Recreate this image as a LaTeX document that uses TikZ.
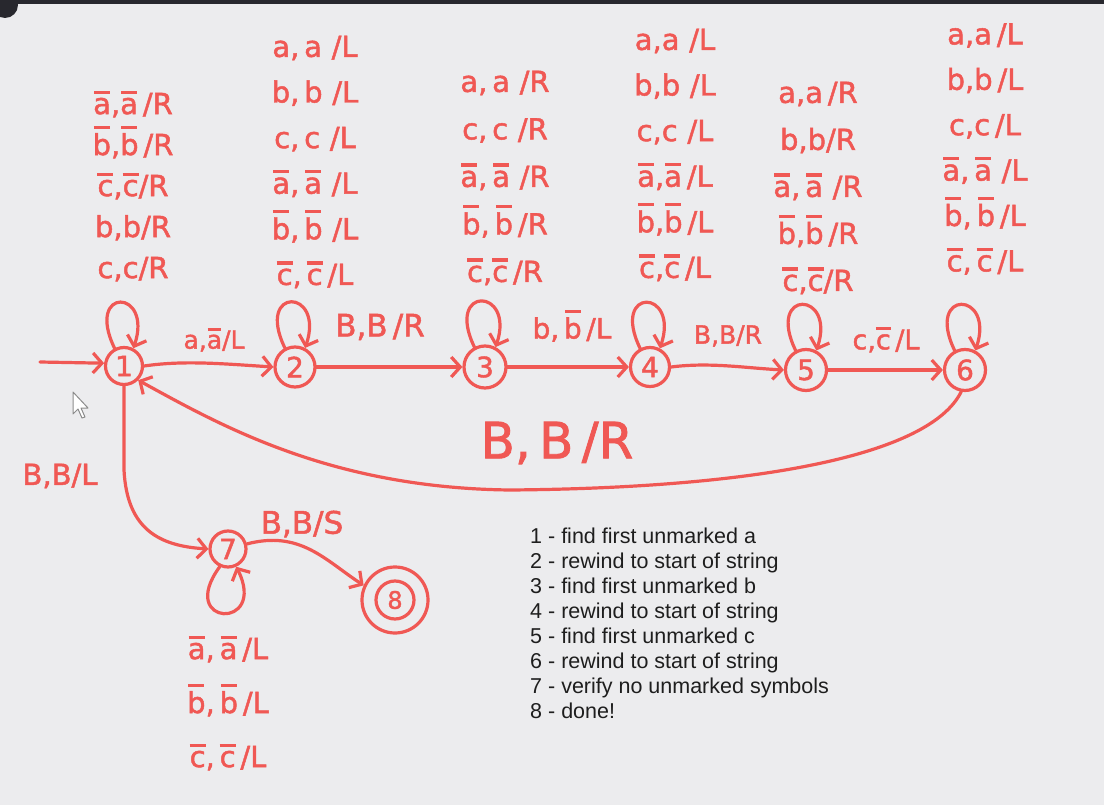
\documentclass[tikz,border=0pt]{standalone}
\usepackage{fontspec}
\setmainfont{Liberation Sans}
\newfontface\handfont[FakeBold=1.6]{DejaVu Sans}
\usetikzlibrary{arrows.meta}
\definecolor{mred}{RGB}{240,88,84}
\definecolor{bgc}{RGB}{236,236,238}
\definecolor{barc}{RGB}{40,40,46}
\definecolor{legc}{RGB}{30,30,30}
\newcommand\ob[1]{\setbox0\hbox{#1}\dimen0=\ht0\advance\dimen0 by 0.14em\rlap{\hbox to \wd0{\hss\raisebox{\dimen0}{\rule{0.55em}{0.11em}}\hss}}\box0}
\newcommand\hand[2]{\handfont\fontsize{#1}{#2}\selectfont}
\begin{document}
\begin{tikzpicture}[x=1pt,y=-1pt,
  state/.style={circle, draw=mred, line width=3.2pt, minimum size=37pt, inner sep=0pt, text=mred, font=\hand{28}{30}},
  edge/.style={draw=mred, line width=3.2pt, line cap=round, line join=round, -{Straight Barb[length=9pt,width=20pt]}},
  lbl/.style={text=mred, align=center, inner sep=0pt},
  stack/.style={lbl, font=\hand{29}{#1}},
]
\useasboundingbox (0,0) rectangle (1104,805);
\fill[bgc] (0,0) rectangle (1104,805);
\fill[barc] (0,0) rectangle (1104,4);
\fill[barc] (5,5) circle (13);

% states
\node[state] (s1) at (124,366) {1};
\node[state, minimum size=40pt] (s2) at (295,367) {2};
\node[state, minimum size=42pt] (s3) at (485,367) {3};
\node[state, minimum size=39pt] (s4) at (650,367) {4};
\node[state, minimum size=41pt] (s5) at (806,370) {5};
\node[state, minimum size=41pt] (s6) at (965,370) {6};
\node[state, minimum size=36pt] (s7) at (228,549) {7};
\node[state, minimum size=66pt, font=\hand{24}{28}] (s8) at (395,600) {8};
\draw[mred, line width=3.2pt] (s8.center) circle (19);

% loops
\foreach \s in {s1,s2,s3,s4,s5,s6}{
  \draw[edge] (\s.118) .. controls +(-30,-62) and +(20,-60) .. (\s.62);
}
\draw[edge] (s7.-115) .. controls +(-44,60) and +(32,64) .. (s7.-65);

% initial
\coordinate (init) at (40,362);
\draw[edge] (init) -- (s1.172);

% chain
\draw[edge] (s1.east) .. controls (185,360) and (225,364) .. (s2.west);
\draw[edge] (s2.east) -- (s3.west);
\draw[edge] (s3.east) -- (s4.west);
\draw[edge] (s4.east) .. controls (710,362) and (745,368) .. (s5.west);
\draw[edge] (s5.east) -- (s6.west);

% back arc
\coordinate (b61) at (510,490);
\draw[edge] (s6.-100) .. controls (930,455) and (760,488) .. (b61) .. controls (330,488) and (220,425) .. (s1.-45);

% 1 -> 7
\coordinate (c17) at (124,470);
\draw[edge] (s1.south) -- (c17) .. controls (127,530) and (160,546) .. (s7.west);

% 7 -> 8
\draw[edge] (s7.15) .. controls (300,530) and (325,560) .. (s8.155);

% edge labels
\node[lbl, font=\hand{25}{30}] (l12) at (214,340) {a,\ob{a}/L};
\node[lbl, font=\hand{31}{36}] (l23) at (380,327) {B,B\,/R};
\node[lbl, font=\hand{28}{34}] (l34) at (572,326) {b,\,\ob{b}\,/L};
\node[lbl, font=\hand{25}{30}] (l45) at (728,336) {B,B/R};
\node[lbl, font=\hand{27}{32}] (l56) at (886,340) {c,\ob{c}\,/L};
\node[lbl, font=\hand{50}{56}] (l61) at (557,443) {B,\,B\,/R};
\node[lbl, font=\hand{29}{34}] (l17) at (60,476) {B,B/L};
\node[lbl, font=\hand{31}{36}] (l78) at (302,524) {B,B/S};

% loop stacks
\node[stack=41pt] (t1) at (133,186) {\ob{a},\ob{a}\,/R\\ \ob{b},\ob{b}\,/R\\ \ob{c},\ob{c}/R\\ b,b/R\\ c,c/R};
\node[stack=45.6pt] (t2) at (315,162) {a,\,a\,\,/L\\ b,\,b\,\,/L\\ c,\,c\,\,/L\\ \ob{a},\,\ob{a}\,\,/L\\ \ob{b},\,\ob{b}\,\,/L\\ \ob{c},\,\ob{c}\,/L};
\node[stack=47.5pt] (t3) at (505,178) {a,\,a\,\,/R\\ c,\,c\,\,/R\\ \ob{a},\,\ob{a}\,\,/R\\ \ob{b},\,\ob{b}\,/R\\ \ob{c},\ob{c}\,/R};
\node[stack=45.6pt] (t4) at (675,155) {a,a\,\,/L\\ b,b\,\,/L\\ c,c\,\,/L\\ \ob{a},\ob{a}\,/L\\ \ob{b},\ob{b}\,/L\\ \ob{c},\ob{c}\,/L};
\node[stack=47pt] (t5) at (818,188) {a,a\,/R\\ b,b/R\\ \ob{a},\,\ob{a}\,\,/R\\ \ob{b},\ob{b}\,/R\\ \ob{c},\ob{c}/R};
\node[stack=45.4pt] (t6) at (985,149) {a,a\,/L\\ b,b\,/L\\ c,c\,/L\\ \ob{a},\,\ob{a}\,\,/L\\ \ob{b},\,\ob{b}\,/L\\ \ob{c},\,\ob{c}\,/L};
\node[stack=54pt] (t7) at (228,703) {\ob{a},\,\ob{a}\,/L\\ \ob{b},\,\ob{b}\,/L\\ \ob{c},\,\ob{c}\,/L};

% legend
\node[anchor=north west, align=left, inner sep=0pt, text=legc, font=\fontsize{21.5}{25}\selectfont] (leg) at (530,528)
{1 - find first unmarked a\\
2 - rewind to start of string\\
3 - find first unmarked b\\
4 - rewind to start of string\\
5 - find first unmarked c\\
6 - rewind to start of string\\
7 - verify no unmarked symbols\\
8 - done!};

% mouse pointer
\draw[fill=white, draw=black!45, line width=1pt, line join=round]
  (73,392) -- (73,414) -- (78,409) -- (82,418) -- (85,417) -- (81,408) -- (88,408) -- cycle;
\end{tikzpicture}
\end{document}
